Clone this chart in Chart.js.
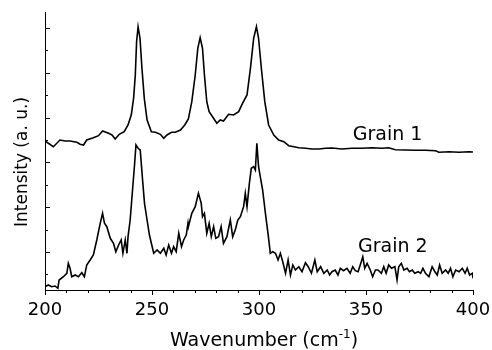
<!DOCTYPE html>
<html>
<head>
<meta charset="utf-8">
<script src="https://cdn.jsdelivr.net/npm/chart.js@4/dist/chart.umd.min.js"></script>
<style>
  html, body { margin: 0; padding: 0; background: #fff; }
  #wrap { width: 492px; height: 350px; position: relative; }
</style>
</head>
<body>
<div id="wrap"><canvas id="raman"></canvas></div>
<script>
// spectra (wavenumber in cm-1, intensity in arbitrary units)
const wavenumber1 = [200.0, 203.9, 207.0, 209.4, 211.7, 214.9, 216.4, 218.0, 219.5, 222.6, 225.0, 226.9, 229.7, 231.3, 232.8, 234.7, 237.0, 238.8, 240.3, 241.4, 242.2, 242.8, 243.5, 244.4, 245.3, 246.4, 247.7, 249.7, 251.6, 253.9, 255.5, 257.0, 259.1, 260.9, 263.3, 265.3, 267.0, 268.6, 270.2, 271.4, 272.5, 273.6, 274.5, 275.6, 276.7, 278.3, 280.3, 281.9, 283.4, 285.8, 288.1, 290.5, 292.3, 294.4, 296.0, 297.5, 298.8, 299.8, 301.1, 302.7, 304.5, 306.9, 309.2, 311.6, 313.9, 316.3, 318.6, 321.7, 324.8, 328.0, 331.1, 334.1, 338.8, 343.4, 348.1, 352.8, 357.5, 360.6, 363.7, 368.4, 373.1, 377.8, 382.5, 384.1, 388.8, 393.5, 398.1, 400.0];
const intensity1 = [1490, 1433, 1500, 1490, 1490, 1477, 1457, 1450, 1500, 1523, 1543, 1590, 1567, 1550, 1510, 1557, 1583, 1650, 1750, 1917, 2150, 2483, 2633, 2517, 2217, 1917, 1700, 1583, 1577, 1557, 1517, 1550, 1577, 1577, 1600, 1650, 1710, 1883, 2150, 2417, 2523, 2417, 2150, 1883, 1783, 1733, 1667, 1700, 1690, 1757, 1750, 1783, 1867, 1950, 2217, 2517, 2633, 2517, 2217, 1883, 1650, 1550, 1500, 1483, 1443, 1433, 1423, 1417, 1410, 1410, 1417, 1420, 1410, 1417, 1417, 1423, 1417, 1423, 1403, 1400, 1397, 1397, 1393, 1377, 1383, 1377, 1383, 1380];

const wavenumber2 = [200.0, 201.5, 203.1, 204.7, 206.0, 206.6, 208.6, 210.2, 210.9, 211.7, 212.5, 214.1, 215.6, 217.2, 218.4, 219.5, 221.1, 222.6, 224.2, 225.8, 226.9, 227.8, 228.9, 230.5, 232.0, 233.1, 234.4, 235.6, 236.4, 237.5, 238.3, 238.8, 239.8, 240.9, 241.9, 242.5, 243.5, 244.5, 245.6, 246.5, 247.7, 248.8, 249.7, 250.8, 252.4, 253.9, 255.5, 256.6, 257.8, 259.1, 260.1, 261.3, 262.5, 263.8, 264.8, 266.0, 266.8, 267.0, 268.6, 270.2, 271.7, 273.0, 273.6, 274.5, 275.6, 276.7, 277.7, 278.8, 279.8, 281.1, 282.3, 283.4, 285.0, 286.6, 287.7, 288.9, 290.1, 291.3, 292.8, 293.6, 294.4, 295.5, 296.4, 297.5, 298.3, 299.0, 299.8, 300.6, 301.7, 303.0, 304.2, 305.3, 306.4, 307.7, 308.9, 310.0, 311.1, 312.4, 313.6, 314.7, 315.8, 317.0, 318.6, 320.1, 321.7, 323.0, 324.5, 326.1, 327.2, 328.8, 330.3, 331.9, 333.0, 334.1, 335.6, 336.9, 338.0, 339.5, 341.1, 342.6, 343.8, 345.0, 346.3, 347.8, 348.5, 349.4, 350.5, 352.0, 353.1, 354.4, 355.6, 357.2, 358.3, 359.4, 360.6, 361.9, 363.5, 364.5, 365.3, 366.5, 367.7, 369.2, 370.3, 371.6, 372.8, 374.4, 375.5, 376.6, 377.8, 379.4, 380.9, 382.2, 383.3, 384.4, 385.6, 387.2, 388.4, 389.5, 390.6, 391.9, 393.5, 395.0, 396.3, 397.3, 398.4, 399.7, 400.0];
const intensity2 = [33, 50, 33, 40, 17, 100, 133, 167, 267, 217, 133, 150, 133, 173, 133, 250, 300, 350, 500, 667, 767, 667, 633, 517, 467, 383, 450, 500, 367, 500, 367, 533, 700, 1000, 1267, 1450, 1417, 1400, 1100, 867, 700, 550, 467, 367, 400, 367, 417, 350, 450, 367, 433, 383, 567, 433, 500, 550, 667, 633, 767, 833, 967, 867, 733, 767, 567, 667, 533, 633, 517, 533, 633, 467, 533, 700, 533, 600, 700, 733, 833, 967, 833, 1067, 1217, 1233, 1200, 1467, 1233, 1133, 1000, 767, 567, 367, 383, 367, 300, 367, 283, 167, 300, 150, 250, 200, 233, 183, 273, 233, 167, 300, 183, 233, 167, 200, 150, 183, 200, 150, 217, 193, 217, 167, 233, 193, 183, 283, 333, 217, 267, 200, 133, 200, 200, 167, 233, 167, 250, 217, 233, 100, 233, 267, 200, 217, 183, 200, 167, 183, 167, 217, 167, 133, 233, 183, 150, 250, 167, 200, 167, 217, 133, 200, 183, 217, 167, 217, 150, 167, 117];

const seriesNames = ['Grain 1', 'Grain 2'];
const xMajorTicks = [200, 250, 300, 350, 400];
const xMinorTicks = [210, 220, 230, 240, 260, 270, 280, 290, 310, 320, 330, 340, 360, 370, 380, 390];
const yMajorTicks = [380, 828, 1276, 1724, 2172, 2620];
const yMinorTicks = [156, 604, 1052, 1500, 1948, 2396];

function toPoints(xs, ys) {
    return xs.map((x, i) => ({ x: x, y: ys[i] }));
}

// ticks, series labels and titles
const decorPlugin = {
    id: 'decor',
    afterDraw(chart) {
        const ctx = chart.ctx;
        const xs = chart.scales.x;
        const ys = chart.scales.y;
        const area = chart.chartArea;
        ctx.save();
        ctx.strokeStyle = '#000';
        ctx.lineWidth = 1;

        // x ticks (outward)
        xMajorTicks.forEach(v => {
            const px = Math.round(xs.getPixelForValue(v)) + 0.5;
            ctx.beginPath(); ctx.moveTo(px, area.bottom); ctx.lineTo(px, area.bottom + 5); ctx.stroke();
        });
        xMinorTicks.forEach(v => {
            const px = Math.round(xs.getPixelForValue(v)) + 0.5;
            ctx.beginPath(); ctx.moveTo(px, area.bottom); ctx.lineTo(px, area.bottom + 3); ctx.stroke();
        });
        // y ticks (inward)
        yMajorTicks.forEach(v => {
            const py = Math.round(ys.getPixelForValue(v)) + 0.5;
            ctx.beginPath(); ctx.moveTo(area.left, py); ctx.lineTo(area.left + 5, py); ctx.stroke();
        });
        yMinorTicks.forEach(v => {
            const py = Math.round(ys.getPixelForValue(v)) + 0.5;
            ctx.beginPath(); ctx.moveTo(area.left, py); ctx.lineTo(area.left + 3, py); ctx.stroke();
        });

        ctx.fillStyle = '#000';
        ctx.textBaseline = 'alphabetic';
        ctx.textAlign = 'left';
        ctx.font = '19px "DejaVu Sans"';
        ctx.fillText(seriesNames[0], xs.getPixelForValue(343.8), ys.getPixelForValue(1500));
        ctx.fillText(seriesNames[1], xs.getPixelForValue(346.3), ys.getPixelForValue(383));

        // x title with superscript
        const main = 'Wavenumber (cm';
        const sup = '-1';
        const end = ')';
        ctx.font = '19px "DejaVu Sans"';
        const wMain = ctx.measureText(main).width;
        const wEnd = ctx.measureText(end).width;
        ctx.font = '12px "DejaVu Sans"';
        const wSup = ctx.measureText(sup).width;
        const total = wMain + wSup + wEnd;
        let tx = (area.left + area.right) / 2 + 5 - total / 2;
        const base = 346;
        ctx.font = '19px "DejaVu Sans"';
        ctx.fillText(main, tx, base);
        tx += wMain;
        ctx.font = '12px "DejaVu Sans"';
        ctx.fillText(sup, tx, base - 8);
        tx += wSup;
        ctx.font = '19px "DejaVu Sans"';
        ctx.fillText(end, tx, base);

        // y title
        ctx.translate(27, (area.top + area.bottom) / 2 + 11);
        ctx.rotate(-Math.PI / 2);
        ctx.textAlign = 'center';
        ctx.font = '17px "DejaVu Sans"';
        ctx.fillText('Intensity (a. u.)', 0, 0);
        ctx.restore();
    }
};

new Chart(document.getElementById('raman'), {
    type: 'line',
    data: {
        datasets: [
            { label: seriesNames[0], data: toPoints(wavenumber1, intensity1) },
            { label: seriesNames[1], data: toPoints(wavenumber2, intensity2) },
        ],
    },
    options: {
        responsive: true,
        maintainAspectRatio: false,
        animation: false,
        layout: { padding: { top: 12, right: 19, left: 0, bottom: 0 } },
        elements: {
            line: { borderColor: '#000', borderWidth: 1.6, tension: 0, fill: false },
            point: { radius: 0 },
        },
        plugins: {
            legend: { display: false },
            tooltip: { enabled: false },
        },
        scales: {
            x: {
                type: 'linear',
                min: 200,
                max: 400,
                afterFit: scale => {
                    scale.height = 60;
                    scale.paddingLeft = 0;
                    scale.paddingRight = 0;
                },
                afterBuildTicks: scale => { scale.ticks = xMajorTicks.map(v => ({ value: v })); },
                grid: { display: false, drawTicks: false },
                border: { display: true, color: '#000', width: 1 },
                ticks: {
                    color: '#000',
                    font: { family: 'DejaVu Sans', size: 18 },
                    padding: 10,
                    maxRotation: 0,
                },
            },
            y: {
                min: 0,
                max: 2780,
                afterFit: scale => {
                    scale.width = 45;
                    scale.paddingTop = 0;
                    scale.paddingBottom = 0;
                },
                grid: { display: false, drawTicks: false },
                border: { display: true, color: '#000', width: 1 },
                ticks: { display: false },
            },
        },
    },
    plugins: [decorPlugin],
});
</script>
</body>
</html>
